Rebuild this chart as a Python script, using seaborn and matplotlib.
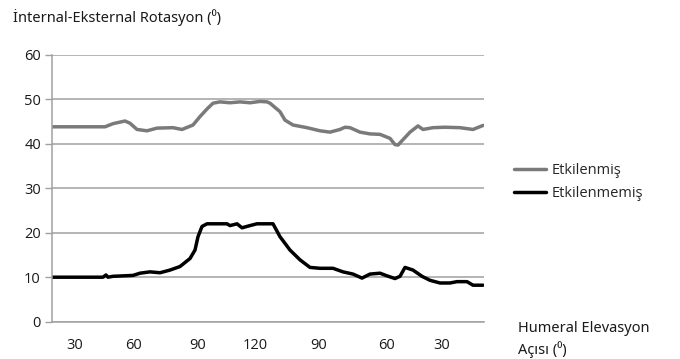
import matplotlib
matplotlib.use("Agg")
import matplotlib.pyplot as plt
import seaborn as sns
import pandas as pd
from matplotlib.lines import Line2D

# ---- data ----
etkilenmis_x = [0, 13.25, 15.25, 18.25, 19.5, 21.25, 23.75, 26.25, 30.25, 32.5, 35.25, 37, 38.75,
                40.25, 42, 44.5, 47, 49.5, 52, 53.75, 54.5, 57, 58.25, 60.25, 63.75, 67, 69.5,
                72, 73.25, 74.5, 77, 79.5, 82, 84.5, 85.75, 86.5, 87.75, 89.5, 91.5, 92.75,
                95.25, 98.25, 102, 105.25, 107.75]
etkilenmis_y = [43.8, 43.8, 44.5, 45.1, 44.6, 43.2, 42.9, 43.5, 43.6, 43.2, 44.2, 46.1, 47.8,
                49.1, 49.4, 49.2, 49.4, 49.2, 49.5, 49.4, 49.1, 47.2, 45.3, 44.2, 43.6, 42.9, 42.6,
                43.2, 43.7, 43.6, 42.6, 42.2, 42.1, 41.2, 39.8, 39.7, 40.9, 42.6, 44.0, 43.2,
                43.6, 43.7, 43.6, 43.2, 44.1]

etkilenmemis_x = [0, 12.75, 13.5, 14, 15.25, 20.25, 22, 24.5, 27, 29.5, 32, 34.5, 35.75, 36.5,
                  37.5, 38.75, 43.75, 44.5, 46.25, 47.5, 49.5, 51.25, 55.25, 57, 59.5, 62, 64.5,
                  67, 70.25, 72.75, 75.25, 77.5, 79.5, 82, 83.75, 85.75, 87, 88.25, 90.25, 92.5,
                  94.5, 97, 99.5, 101.25, 103.75, 105.25, 107.75]
etkilenmemis_y = [10.0, 10.0, 10.5, 10.0, 10.2, 10.4, 10.9, 11.2, 11.0, 11.6, 12.4, 14.2, 16.1, 19.1,
                  21.4, 22.0, 22.0, 21.6, 22.0, 21.1, 21.6, 22.0, 22.0, 19.1, 16.1, 13.9, 12.2,
                  12.0, 12.0, 11.2, 10.7, 9.8, 10.7, 10.9, 10.3, 9.7, 10.2, 12.2, 11.6, 10.2,
                  9.3, 8.7, 8.7, 9.0, 9.0, 8.2, 8.2]

tick_pos = [5.75, 20.3, 36.3, 50.75, 66.6, 83.7, 97.4]
tick_labels = ["30", "60", "90", "120", "90", "60", "30"]
y_ticks = [0, 10, 20, 30, 40, 50, 60]

series_names = ["Etkilenmiş", "Etkilenmemiş"]

df = pd.concat([
    pd.DataFrame({"x": etkilenmis_x, "y": etkilenmis_y, "seri": series_names[0]}),
    pd.DataFrame({"x": etkilenmemis_x, "y": etkilenmemis_y, "seri": series_names[1]}),
])

sns.set_theme(style="white")
FONT = ["Open Sans", "Noto Sans", "DejaVu Sans"]
TFONT = ["Noto Sans", "DejaVu Sans"]
plt.rcParams["font.family"] = FONT

fig = plt.figure(figsize=(6.8, 3.59), dpi=100)
ax = fig.add_axes([52 / 680, 1 - 321.7 / 359, 432 / 680, (321.7 - 54.7) / 359])

palette = {series_names[0]: "#7a7a7a", series_names[1]: "#000000"}
sns.lineplot(data=df, x="x", y="y", hue="seri", palette=palette, ax=ax,
             linewidth=2.5, estimator=None, sort=False, legend=False)

ax.set_xlim(0, 108)
ax.set_ylim(0, 60)
ax.set_yticks(y_ticks)
ax.set_xticks(tick_pos)
ax.set_xticklabels(tick_labels)
ax.yaxis.grid(True, color="#a0a0a0", linewidth=1.1)
ax.set_axisbelow(True)
for s in ["top", "right"]:
    ax.spines[s].set_visible(False)
for s in ["left", "bottom"]:
    ax.spines[s].set_color("#a0a0a0")
    ax.spines[s].set_linewidth(1.1)
ax.tick_params(axis="y", which="major", left=True, length=5, width=1, color="#a0a0a0",
               labelsize=10.5, labelcolor="#1a1a1a", pad=3)
ax.tick_params(axis="x", which="major", bottom=False, labelsize=10.5, labelcolor="#1a1a1a", pad=6)
ax.set_xlabel("")
ax.set_ylabel("")

fig.text(13 / 680, 1 - 18 / 359, "İnternal-Eksternal Rotasyon (⁰)", fontsize=10.5,
         color="#1a1a1a", va="center", ha="left", family=TFONT)

# legend
handles = [Line2D([], [], color=palette[n], linewidth=2.5) for n in series_names]
fig.legend(handles, series_names, loc="center left", bbox_to_anchor=(514 / 680, 1 - 182 / 359),
           frameon=False, fontsize=10.5, handlelength=2.2, handletextpad=0.35,
           labelspacing=0.55, borderaxespad=0, borderpad=0)

fig.text(518 / 680, 1 - 328 / 359, "Humeral Elevasyon", fontsize=10.5, color="#1a1a1a",
         va="center", ha="left", family=TFONT)
fig.text(518 / 680, 1 - 350 / 359, "Açısı (⁰)", fontsize=10.5, color="#1a1a1a",
         va="center", ha="left", family=TFONT)

fig.savefig("out.png", dpi=100)
